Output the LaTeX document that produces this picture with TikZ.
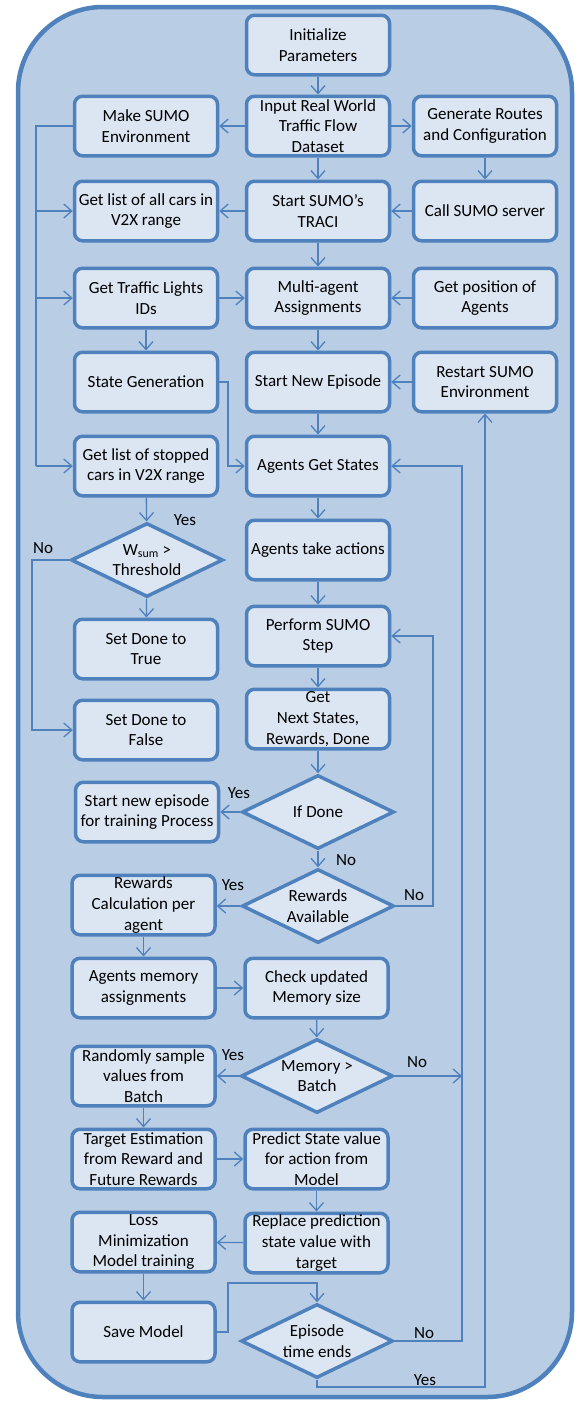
\documentclass[tikz,border=0pt]{standalone}
\usepackage{fontspec}
\setmainfont{Carlito}
\usetikzlibrary{arrows.meta,shapes.geometric}
\definecolor{bord}{HTML}{4F81BD}
\definecolor{outerfill}{HTML}{B9CDE5}
\definecolor{boxfill}{HTML}{DCE6F2}
\begin{document}
\begin{tikzpicture}[x=1pt,y=-1pt,
  txt/.style={font=\fontsize{17}{20.8}\selectfont},
  box/.style={txt,draw=bord,fill=boxfill,line width=3.5pt,rounded corners=8pt,
    minimum width=143pt,minimum height=59.5pt,align=center,inner sep=0pt},
  dia/.style={txt,diamond,draw=bord,fill=boxfill,line width=3.5pt,
    minimum width=152pt,minimum height=74pt,aspect=2,inner sep=0pt,align=center},
  ln/.style={draw=bord,line width=1.3pt},
  arr/.style={ln,-{Straight Barb[length=8pt,width=14pt]}},
  lab/.style={txt,inner sep=0pt}]
\useasboundingbox (0,0) rectangle (581,1403);
\draw[draw=bord,fill=outerfill,line width=4.5pt,rounded corners=85pt] (18,7) rectangle (572,1397);

% nodes
\node[box] (init) at (318,45) {Initialize\\Parameters};
\node[box] (input) at (318,126) {Input Real World\\Traffic Flow\\Dataset};
\node[box] (make) at (146,126) {Make SUMO\\Environment};
\node[box] (gen) at (485,126) {Generate Routes\\and Configuration};
\node[box] (allcars) at (146,211) {Get list of all cars in\\V2X range};
\node[box] (traci) at (318,211) {Start SUMO’s\\TRACI};
\node[box] (server) at (485,211) {Call SUMO server};
\node[box] (lights) at (146,298) {Get Traffic Lights\\IDs};
\node[box] (multi) at (318,298) {Multi-agent\\Assignments};
\node[box] (pos) at (485,298) {Get position of\\Agents};
\node[box] (stategen) at (146,382) {State Generation};
\node[box] (newep) at (318,382) {Start New Episode};
\node[box] (restart) at (485,382) {Restart SUMO\\Environment};
\node[box] (stopped) at (146,466) {Get list of stopped\\cars in V2X range};
\node[box] (states) at (318,466) {Agents Get States};
\node[dia] (wsum) at (147,560) {W\textsubscript{sum} >\\Threshold};
\node[box] (actions) at (318,550) {Agents take actions};
\node[box] (truebox) at (146,649) {Set Done to\\True};
\node[box] (step) at (318,636) {Perform SUMO\\Step};
\node[box] (next) at (318,719) {Get\\Next States,\\Rewards, Done};
\node[box] (falsebox) at (146,730) {Set Done to\\False};
\node[dia] (done) at (318,812) {If Done};
\node[box] (newtrain) at (147,812) {Start new episode\\for training Process};
\node[dia] (avail) at (318,906) {Rewards\\Available};
\node[box] (calc) at (143.5,905) {Rewards\\Calculation per\\agent};
\node[box] (memassign) at (143.5,988) {Agents memory\\assignments};
\node[box] (check) at (316.5,988) {Check updated\\Memory size};
\node[dia] (mem) at (317,1076) {Memory >\\Batch};
\node[box] (sample) at (143.5,1076) {Randomly sample\\values from\\Batch};
\node[box] (target) at (143.5,1159) {Target Estimation\\from Reward and\\Future Rewards};
\node[box] (predict) at (316.5,1159) {Predict State value\\for action from\\Model};
\node[box] (replace) at (316.5,1243) {Replace prediction\\state value with\\target};
\node[box] (loss) at (143.5,1242) {Loss\\Minimization\\Model training};
\node[box] (save) at (143.5,1332) {Save Model};
\node[dia] (epend) at (317,1341) {Episode\\time ends};

% helper coordinates
\coordinate (bus) at (36,0);
\coordinate (nox) at (32,0);
\coordinate (sgx) at (228,0);
\coordinate (l1) at (433,0);
\coordinate (l2) at (462,0);
\coordinate (smx) at (228,1283);
\coordinate (ey) at (0,1387);

% connectors
\draw[arr] (init) -- (input);
\draw[arr] (input) -- (make);
\draw[arr] (input) -- (gen);
\draw[arr] (input) -- (traci);
\draw[arr] (gen) -- (server);
\draw[arr] (server) -- (traci);
\draw[arr] (traci) -- (allcars);
\draw[arr] (traci) -- (multi);
\draw[ln] (make.west) -- (make.west -| bus) -- (stopped.west -| bus);
\draw[arr] (allcars.west -| bus) -- (allcars.west);
\draw[arr] (lights.west -| bus) -- (lights.west);
\draw[arr] (stopped.west -| bus) -- (stopped.west);
\draw[arr] (lights) -- (multi);
\draw[arr] (pos) -- (multi);
\draw[arr] (lights) -- (stategen);
\draw[arr] (multi) -- (newep);
\draw[arr] (restart) -- (newep);
\draw[arr] (newep) -- (states);
\draw[arr] (stategen.east) -- (stategen.east -| sgx) -- (states.west -| sgx) -- (states.west);
\draw[arr] (stopped) -- (wsum);
\draw[arr] (wsum) -- (truebox);
\draw[arr] (wsum.west) -- (wsum.west -| nox) -- (falsebox.west -| nox) -- (falsebox.west);
\draw[arr] (states) -- (actions);
\draw[arr] (actions) -- (step);
\draw[arr] (step) -- (next);
\draw[arr] (next) -- (done);
\draw[arr] (done.west) -- (newtrain.east);
\draw[arr] (done) -- (avail);
\draw[arr] (avail.west) -- (avail.west -| calc.east);
\draw[arr] (avail.east) -- (avail.east -| l1) -- (step.east -| l1) -- (step.east);
\draw[arr] (calc) -- (memassign);
\draw[arr] (memassign) -- (check);
\draw[arr] (check) -- (mem);
\draw[arr] (mem.west) -- (mem.west -| sample.east);
\draw[arr] (mem.east) -- (mem.east -| l2);
\draw[arr] (sample) -- (target);
\draw[arr] (target) -- (predict);
\draw[arr] (predict) -- (replace);
\draw[arr] (replace) -- (loss);
\draw[arr] (loss) -- (save);
\draw[arr] (save.east) -- (save.east -| smx) -- (smx) -- (smx -| epend.north) -- (epend.north);
\draw[arr] (epend.east) -- (epend.east -| l2) -- (states.east -| l2) -- (states.east);
\draw[arr] (epend.south) -- (epend.south |- ey) -- (ey -| restart.south) -- (restart.south);

% labels
\node[lab] at (185,520) {Yes};
\node[lab] at (43,548) {No};
\node[lab] at (239,793) {Yes};
\node[lab] at (346,860) {No};
\node[lab] at (233,885) {Yes};
\node[lab] at (414,895) {No};
\node[lab] at (233,1055) {Yes};
\node[lab] at (417,1062) {No};
\node[lab] at (424,1333) {No};
\node[lab] at (425,1380) {Yes};
\end{tikzpicture}
\end{document}
